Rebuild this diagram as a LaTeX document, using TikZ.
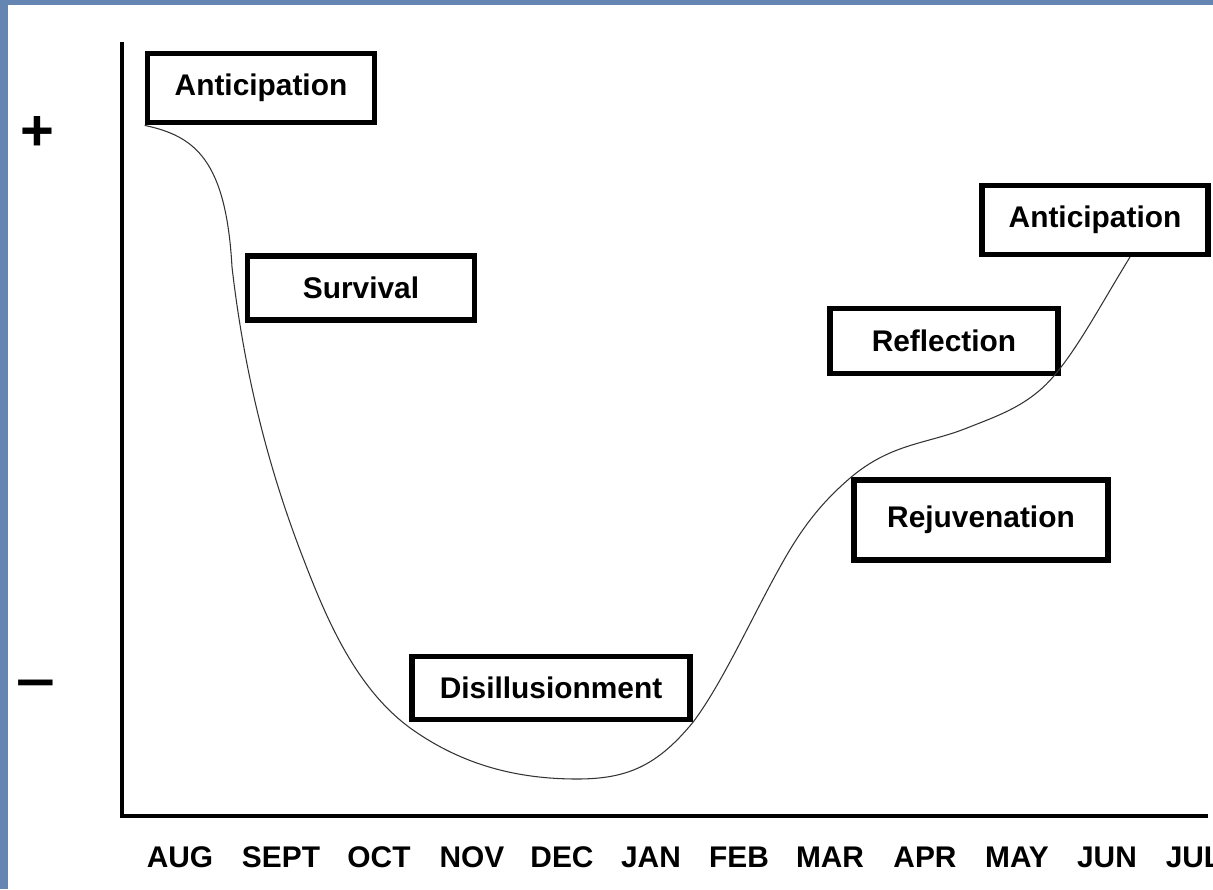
\documentclass[tikz,border=0pt]{standalone}
\usepackage{fontspec}
\setmainfont{Liberation Sans}
\definecolor{frameblue}{RGB}{101,134,178}
\tikzset{
	phase/.style={draw, fill=white, line width=3.3pt, inner sep=0pt,
		font=\bfseries\fontsize{17}{20}\selectfont},
	month/.style={font=\bfseries\fontsize{17}{20}\selectfont},
	mood/.style={font=\bfseries\fontsize{33}{36}\selectfont},
	axis/.style={line width=2.8pt},
	curve/.style={line width=0.6pt, black!80}
}

\begin{document}
\begin{tikzpicture}[x=0.02cm, y=-0.02cm]
	\useasboundingbox (0,0) rectangle (1213,889);
	\fill[frameblue] (0,0) rectangle (1213,889);
	\fill[white] (8,5) rectangle (1213,889);
	% axes
	\coordinate (top) at (122,42);
	\coordinate (origin) at (122,816);
	\coordinate (right) at (1208,816);
	\draw[axis] (top) -- (origin) -- (right);
	\node[mood] (plus) at (37,133) {+};
	\node[mood, xscale=1.2] (minus) at (36,689) {–};
	\foreach \mon/\xpos in {AUG/180, SEPT/281, OCT/379, NOV/472, DEC/562,
		JAN/651, FEB/739, MAR/830, APR/925, MAY/1017, JUN/1107, JUL/1194}
		\node[month] (\mon) at (\xpos,857) {\mon};
	% phases
	\node[phase, minimum width=4.54cm, minimum height=1.38cm] (ant1)
	at (261,88) {Anticipation};
	\node[phase, minimum width=4.54cm, minimum height=1.28cm] (surv)
	at (361,288) {Survival};
	\node[phase, minimum width=5.56cm, minimum height=1.26cm] (disil)
	at (551,688) {Disillusionment};
	\node[phase, minimum width=5.08cm, minimum height=1.60cm] (rejuv)
	at (981,520) {Rejuvenation};
	\node[phase, minimum width=4.56cm, minimum height=1.30cm] (refl)
	at (944,341) {Reflection};
	\node[phase, minimum width=4.52cm, minimum height=1.38cm] (ant2)
	at (1095,220) {Anticipation};
	% the curve
	\coordinate (ant2end) at (1130,257);
	\draw[curve] (ant1.south west) .. controls (195,136) and (226,160) .. (232,267)
		.. controls (243,362) and (264,455) .. (300,550)
		.. controls (323,610) and (353,688) .. (413,730)
		.. controls (463,765) and (517,779) .. (577,779)
		.. controls (627,779) and (657,766) .. (disil.south east)
		.. controls (722,684) and (752,617) .. (780,567)
		.. controls (802,527) and (822,502) .. (rejuv.north west)
		.. controls (892,443) and (927,444) .. (967,428)
		.. controls (997,416) and (1028,406) .. (1053,377)
		.. controls (1078,348) and (1100,306) .. (ant2end);
\end{tikzpicture}
\end{document}
